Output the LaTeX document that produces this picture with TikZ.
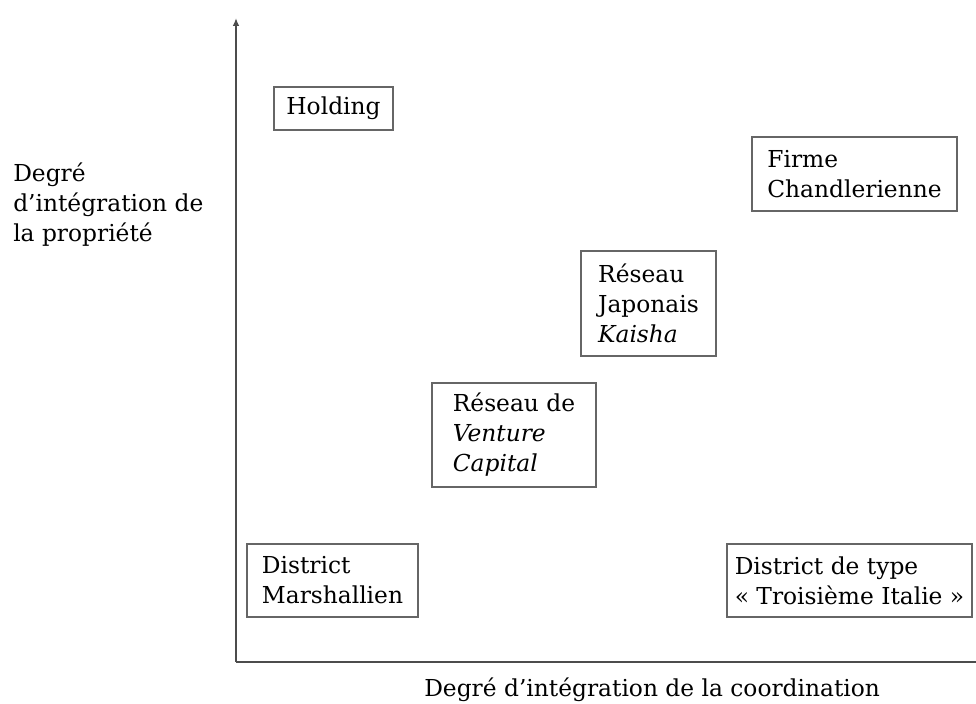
\documentclass[tikz,border=0pt]{standalone}
\usepackage{fontspec}
\setmainfont{DejaVu Serif}
\usepackage{tikz}
\usetikzlibrary{arrows.meta, positioning}

\begin{document}
\begin{tikzpicture}[
        x=0.75pt, y=0.75pt,
        cell/.style={
            draw=black!60,
            line width=1.1pt,
            align=left,
            inner sep=0pt,
            font=\fontsize{17.5}{22.5}\selectfont
        },
        axis/.style={
            draw=black!70,
            line width=1.4pt
        },
        lbl/.style={
            align=left,
            inner sep=0pt,
            font=\fontsize{17.5}{22.5}\selectfont
        }
    ]
        \useasboundingbox (0,0) rectangle (976,704);

        % axes
        \coordinate (origin) at (236,42);
        \coordinate (ytop) at (236,686);
        \coordinate (xend) at (976,42);
        \draw[axis, -{Latex[length=6pt,width=5pt]}] (origin) -- (ytop);
        \draw[axis] (origin) -- (xend);

        % labels of the axes
        \node[lbl, anchor=west] (ylabel) at (13,499)
            {Degré\\d’intégration de\\la propriété};
        \node[lbl, anchor=west] (xlabel) at (424,14) {Degré d’intégration de la coordination};

        % boxes
        \node[cell, minimum width=89.25pt, minimum height=32.25pt] (holding)
            at (333.5,595.5) {Holding};
        \node[cell, minimum width=153.75pt, minimum height=55.5pt] (firme)
            at (854.5,530) {Firme\\Chandlerienne};
        \node[cell, minimum width=101.25pt, minimum height=78.75pt] (japon)
            at (648.5,400.5) {Réseau\\Japonais\\\textit{Kaisha}};
        \node[cell, minimum width=123pt, minimum height=78pt] (venture)
            at (514,269) {Réseau de\\\textit{Venture}\\\textit{Capital}};
        \node[cell, minimum width=128.25pt, minimum height=54.75pt] (marshall)
            at (332.5,123.5) {District\\Marshallien};
        \node[cell, minimum width=183.75pt, minimum height=54.75pt] (italie)
            at (849.5,123.5) {District de type\\« Troisième Italie »};
\end{tikzpicture}
\end{document}
